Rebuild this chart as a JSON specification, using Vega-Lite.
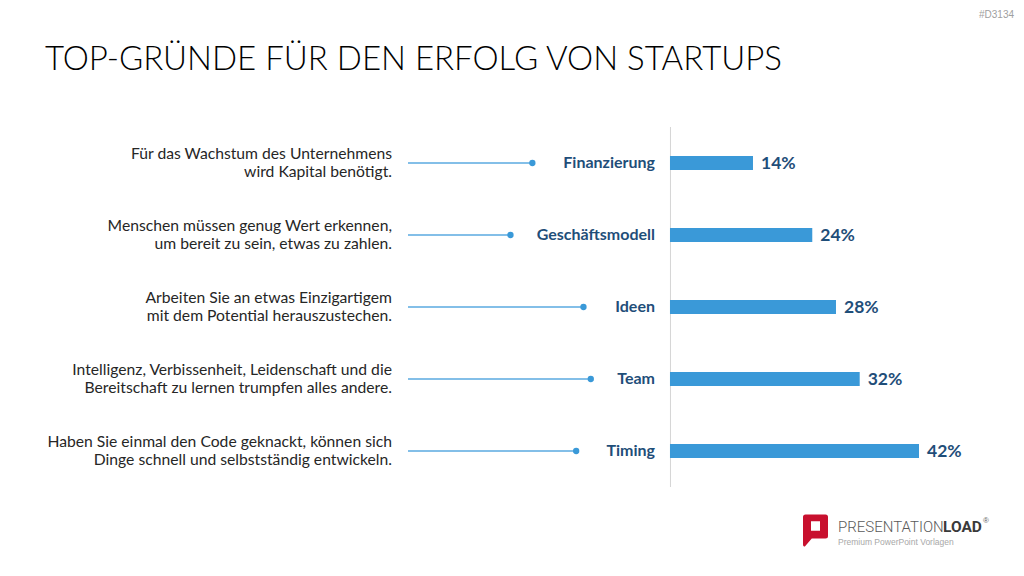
{
  "$schema": "https://vega.github.io/schema/vega-lite/v6.json",
  "width": 1024,
  "height": 576,
  "autosize": {"type": "none"},
  "padding": 0,
  "background": "#ffffff",
  "config": {"view": {"stroke": null}, "font": "Lato"},
  "layer": [
    {
      "data": {
        "values": [
          {"category": "Finanzierung", "share": 0.14, "description": "Für das Wachstum des Unternehmens\nwird Kapital benötigt."},
          {"category": "Geschäftsmodell", "share": 0.24, "description": "Menschen müssen genug Wert erkennen,\num bereit zu sein, etwas zu zahlen."},
          {"category": "Ideen", "share": 0.28, "description": "Arbeiten Sie an etwas Einzigartigem\nmit dem Potential herauszustechen."},
          {"category": "Team", "share": 0.32, "description": "Intelligenz, Verbissenheit, Leidenschaft und die\nBereitschaft zu lernen trumpfen alles andere."},
          {"category": "Timing", "share": 0.42, "description": "Haben Sie einmal den Code geknackt, können sich\nDinge schnell und selbstständig entwickeln."}
        ]
      },
      "transform": [
        {"calculate": "-(50 + length(datum.category) * 7.3) / 592.9", "as": "dotX"}
      ],
      "encoding": {
        "y": {
          "field": "category",
          "type": "nominal",
          "sort": null,
          "axis": null,
          "scale": {"range": [127, 487], "paddingInner": 0, "paddingOuter": 0}
        }
      },
      "layer": [
        {
          "mark": {"type": "rect", "color": "#d6d6d6"},
          "encoding": {
            "x": {"datum": 0, "type": "quantitative", "axis": null, "scale": {"domain": [-1.13, 0.5971], "nice": false, "zero": false}},
            "x2": {"datum": 0.0017}
          }
        },
        {
          "mark": {"type": "rule", "color": "#5aaae0", "strokeWidth": 1.3},
          "encoding": {
            "x": {"field": "dotX", "type": "quantitative"},
            "x2": {"datum": -0.4419}
          }
        },
        {
          "mark": {"type": "point", "filled": true, "color": "#3a99d8", "size": 40, "opacity": 1},
          "encoding": {"x": {"field": "dotX", "type": "quantitative"}}
        },
        {
          "mark": {"type": "bar", "color": "#3a99d8", "height": 14},
          "encoding": {"x": {"field": "share", "type": "quantitative"}}
        },
        {
          "mark": {"type": "text", "align": "left", "baseline": "middle", "dx": 8, "dy": 1, "fontSize": 17.5, "fontWeight": "bold", "color": "#1f4e79"},
          "encoding": {
            "x": {"field": "share", "type": "quantitative"},
            "text": {"field": "share", "type": "quantitative", "format": ".0%"}
          }
        },
        {
          "mark": {"type": "text", "align": "right", "baseline": "middle", "dx": -15, "fontSize": 16, "fontWeight": "bold", "color": "#1f4e79"},
          "encoding": {
            "x": {"datum": 0, "type": "quantitative"},
            "text": {"field": "category", "type": "nominal"}
          }
        },
        {
          "mark": {"type": "text", "align": "right", "baseline": "middle", "dy": -9, "lineBreak": "\n", "lineHeight": 18, "fontSize": 15.7, "color": "#262626"},
          "encoding": {
            "x": {"datum": -0.4689, "type": "quantitative"},
            "text": {"field": "description", "type": "nominal"}
          }
        }
      ]
    },
    {
      "data": {"values": [{}]},
      "layer": [
        {
          "mark": {"type": "text", "text": "TOP-GRÜNDE FÜR DEN ERFOLG VON STARTUPS", "align": "left", "baseline": "alphabetic", "fontSize": 33, "fontWeight": 300, "color": "#000000"},
          "encoding": {
            "x": {"datum": 45, "type": "quantitative", "axis": null, "scale": {"domain": [0, 1024], "nice": false, "zero": false}},
            "y": {"datum": 70, "type": "quantitative", "axis": null, "scale": {"domain": [0, 576], "reverse": true, "nice": false, "zero": false}}
          }
        },
        {
          "mark": {"type": "text", "text": "#D3134", "align": "right", "baseline": "middle", "fontSize": 10, "color": "#a0a0a0", "font": "Liberation Sans"},
          "encoding": {"x": {"datum": 1014, "type": "quantitative"}, "y": {"datum": 15, "type": "quantitative"}}
        },
        {
          "mark": {
            "type": "point",
            "filled": true,
            "opacity": 1,
            "color": "#c8102e",
            "size": 625,
            "shape": "M-1,-0.8Q-1,-1,-0.8,-1H0.8Q1,-1,1,-0.8V0.72Q1,0.92,0.8,0.92H-0.3L-0.85,1.55Q-1,1.6,-1,1.4Z M-0.36,-0.46V0.3H0.36V-0.46Z"
          },
          "encoding": {"x": {"datum": 815.5, "type": "quantitative"}, "y": {"datum": 527, "type": "quantitative"}}
        },
        {
          "mark": {"type": "text", "text": "PRESENTATION", "align": "left", "baseline": "alphabetic", "fontSize": 15, "font": "Roboto", "fontWeight": 300, "color": "#5a5a5a"},
          "encoding": {"x": {"datum": 838, "type": "quantitative"}, "y": {"datum": 532, "type": "quantitative"}}
        },
        {
          "mark": {"type": "text", "text": "LOAD", "align": "left", "baseline": "alphabetic", "fontSize": 15.5, "fontWeight": "bold", "font": "Roboto", "color": "#3a3a3a"},
          "encoding": {"x": {"datum": 943, "type": "quantitative"}, "y": {"datum": 532, "type": "quantitative"}}
        },
        {
          "mark": {"type": "text", "text": "®", "align": "left", "baseline": "alphabetic", "fontSize": 8, "font": "Liberation Sans", "color": "#5f5f5f"},
          "encoding": {"x": {"datum": 983, "type": "quantitative"}, "y": {"datum": 523, "type": "quantitative"}}
        },
        {
          "mark": {"type": "text", "text": "Premium PowerPoint Vorlagen", "align": "left", "baseline": "alphabetic", "fontSize": 8.5, "font": "Liberation Sans", "color": "#a8a8a8"},
          "encoding": {"x": {"datum": 838, "type": "quantitative"}, "y": {"datum": 545, "type": "quantitative"}}
        }
      ]
    }
  ],
  "resolve": {"scale": {"x": "independent", "y": "independent"}}
}
